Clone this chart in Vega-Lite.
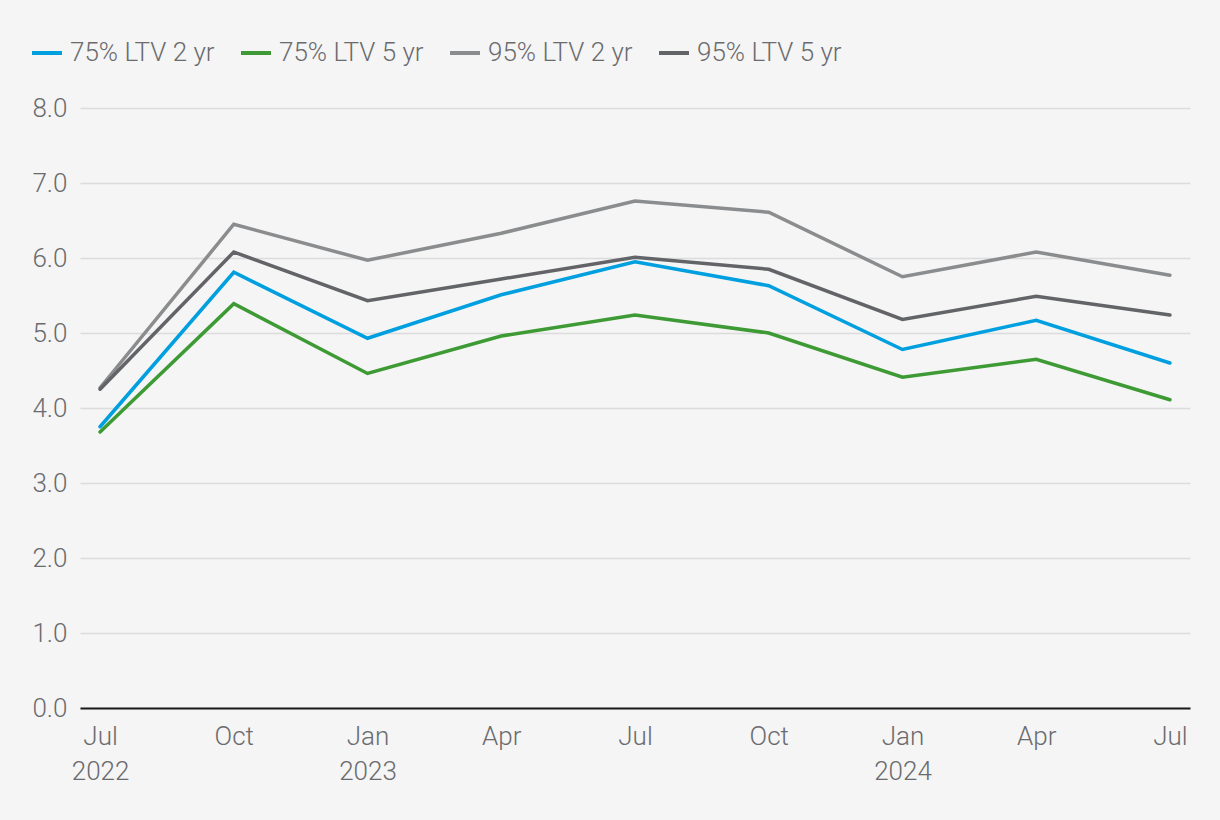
{
  "$schema": "https://vega.github.io/schema/vega-lite/v6.json",
  "autosize": "none",
  "width": 1110,
  "height": 600,
  "padding": {"left": 80, "top": 108, "right": 30, "bottom": 112},
  "background": "#f5f5f5",
  "config": {
    "view": {"stroke": null},
    "font": "Roboto",
    "axis": {"labelFont": "Roboto", "labelFontWeight": 300, "labelColor": "#6b6b6e", "labelFontSize": 26},
    "legend": {"labelFont": "Roboto", "labelFontWeight": 300, "labelColor": "#6b6b6e", "labelFontSize": 26}
  },
  "data": {
    "values": [
      {"q": "Jul 2022", "series": "75% LTV 2 yr", "value": 3.75},
      {"q": "Oct 2022", "series": "75% LTV 2 yr", "value": 5.81},
      {"q": "Jan 2023", "series": "75% LTV 2 yr", "value": 4.93},
      {"q": "Apr 2023", "series": "75% LTV 2 yr", "value": 5.51},
      {"q": "Jul 2023", "series": "75% LTV 2 yr", "value": 5.95},
      {"q": "Oct 2023", "series": "75% LTV 2 yr", "value": 5.63},
      {"q": "Jan 2024", "series": "75% LTV 2 yr", "value": 4.78},
      {"q": "Apr 2024", "series": "75% LTV 2 yr", "value": 5.17},
      {"q": "Jul 2024", "series": "75% LTV 2 yr", "value": 4.60},
      {"q": "Jul 2022", "series": "75% LTV 5 yr", "value": 3.68},
      {"q": "Oct 2022", "series": "75% LTV 5 yr", "value": 5.39},
      {"q": "Jan 2023", "series": "75% LTV 5 yr", "value": 4.46},
      {"q": "Apr 2023", "series": "75% LTV 5 yr", "value": 4.96},
      {"q": "Jul 2023", "series": "75% LTV 5 yr", "value": 5.24},
      {"q": "Oct 2023", "series": "75% LTV 5 yr", "value": 5.00},
      {"q": "Jan 2024", "series": "75% LTV 5 yr", "value": 4.41},
      {"q": "Apr 2024", "series": "75% LTV 5 yr", "value": 4.65},
      {"q": "Jul 2024", "series": "75% LTV 5 yr", "value": 4.11},
      {"q": "Jul 2022", "series": "95% LTV 2 yr", "value": 4.27},
      {"q": "Oct 2022", "series": "95% LTV 2 yr", "value": 6.45},
      {"q": "Jan 2023", "series": "95% LTV 2 yr", "value": 5.97},
      {"q": "Apr 2023", "series": "95% LTV 2 yr", "value": 6.33},
      {"q": "Jul 2023", "series": "95% LTV 2 yr", "value": 6.76},
      {"q": "Oct 2023", "series": "95% LTV 2 yr", "value": 6.61},
      {"q": "Jan 2024", "series": "95% LTV 2 yr", "value": 5.75},
      {"q": "Apr 2024", "series": "95% LTV 2 yr", "value": 6.08},
      {"q": "Jul 2024", "series": "95% LTV 2 yr", "value": 5.77},
      {"q": "Jul 2022", "series": "95% LTV 5 yr", "value": 4.25},
      {"q": "Oct 2022", "series": "95% LTV 5 yr", "value": 6.08},
      {"q": "Jan 2023", "series": "95% LTV 5 yr", "value": 5.43},
      {"q": "Apr 2023", "series": "95% LTV 5 yr", "value": 5.72},
      {"q": "Jul 2023", "series": "95% LTV 5 yr", "value": 6.01},
      {"q": "Oct 2023", "series": "95% LTV 5 yr", "value": 5.85},
      {"q": "Jan 2024", "series": "95% LTV 5 yr", "value": 5.18},
      {"q": "Apr 2024", "series": "95% LTV 5 yr", "value": 5.49},
      {"q": "Jul 2024", "series": "95% LTV 5 yr", "value": 5.24}
    ]
  },
  "mark": {"type": "line", "strokeWidth": 3.5, "strokeJoin": "miter", "strokeCap": "round"},
  "encoding": {
    "x": {
      "field": "q",
      "type": "ordinal",
      "sort": null,
      "scale": {"type": "point", "padding": 0.15},
      "axis": {
        "title": null,
        "labelAngle": 0,
        "ticks": false,
        "grid": false,
        "domainColor": "#1a1a1a",
        "domainWidth": 2,
        "labelPadding": 15,
        "labelLineHeight": 35,
        "labelExpr": "(datum.value == 'Jul 2022' || indexof(datum.value, 'Jan') == 0) ? split(datum.value, ' ') : split(datum.value, ' ')[0]"
      }
    },
    "y": {
      "field": "value",
      "type": "quantitative",
      "scale": {"domain": [0, 8], "nice": false},
      "axis": {
        "title": null,
        "values": [0, 1, 2, 3, 4, 5, 6, 7, 8],
        "format": ".1f",
        "domain": false,
        "ticks": false,
        "labelPadding": 13,
        "gridColor": "#dcdcdc",
        "gridWidth": 1.5
      }
    },
    "color": {
      "field": "series",
      "type": "nominal",
      "scale": {
        "domain": ["75% LTV 2 yr", "75% LTV 5 yr", "95% LTV 2 yr", "95% LTV 5 yr"],
        "range": ["#009fdf", "#3e9a34", "#8a8c8e", "#636468"]
      },
      "legend": {
        "title": null,
        "orient": "none",
        "direction": "horizontal",
        "legendX": -50,
        "legendY": -72,
        "symbolType": "stroke",
        "symbolStrokeWidth": 4,
        "symbolSize": 900,
        "labelOffset": 6,
        "columnPadding": 18
      }
    }
  }
}
